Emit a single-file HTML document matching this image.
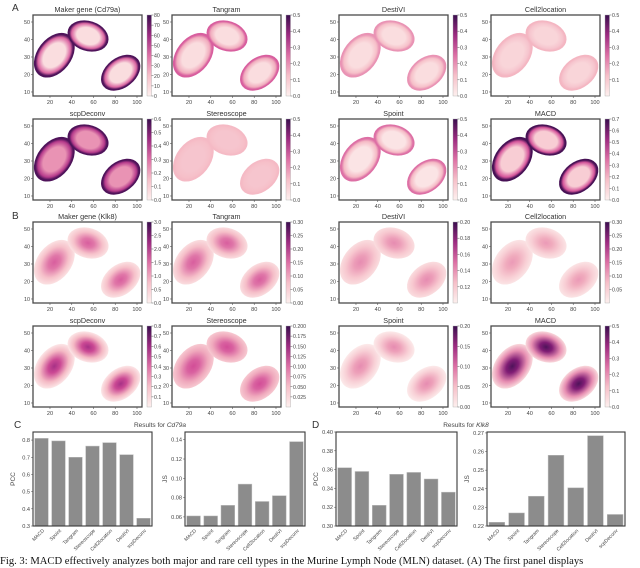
<!DOCTYPE html>
<html><head><meta charset="utf-8">
<style>
html,body{margin:0;padding:0;background:#fff;}
body{width:640px;height:568px;overflow:hidden;position:relative;font-family:"Liberation Sans",sans-serif;}
svg{position:absolute;left:0;top:0;}
</style></head>
<body>
<svg id="fig" width="640" height="568" viewBox="0 0 640 568" xmlns="http://www.w3.org/2000/svg">
<defs id="defs"></defs>
<text x="12" y="11" font-size="10" fill="#333">A</text>
<text x="12" y="219" font-size="10" fill="#333">B</text>
<text x="14" y="428" font-size="10" fill="#333">C</text>
<text x="312" y="428" font-size="10" fill="#333">D</text>
<text x="160" y="427" font-size="6.5" fill="#444" text-anchor="middle">Results for <tspan font-style="italic">Cd79a</tspan></text>
<text x="466" y="427" font-size="6.5" fill="#444" text-anchor="middle">Results for <tspan font-style="italic">Klk8</tspan></text>
<text x="0" y="564" font-family="Liberation Serif, serif" font-size="10.6" fill="#111">Fig. 3: MACD effectively analyzes both major and rare cell types in the Murine Lymph Node (MLN) dataset. (A) The first panel displays</text>
</svg>
<script>
// ---- spatial panel data ----
const panelTitles = ["Maker gene (Cd79a)","Tangram","DestiVI","Cell2location","scpDeconv","Stereoscope","Spoint","MACD","Maker gene (Klk8)","Tangram","DestiVI","Cell2location","scpDeconv","Stereoscope","Spoint","MACD"];
const edgeLevels =   [0.95,0.55,0.4,0.3, 0.95,0.28,0.5,0.97, 0.08,0.1,0.1,0.06, 0.05,0.2,0.03,0.12];
const centerLevels = [0.1,0.1,0.1,0.14, 0.4,0.22,0.06,0.18, 0.55,0.55,0.42,0.38, 0.72,0.6,0.42,0.95];
const cbarTicks = [
 ["0","10","20","30","40","50","60","70","80"],
 ["0.0","0.1","0.2","0.3","0.4","0.5"],
 ["0.0","0.1","0.2","0.3","0.4","0.5"],
 ["","0.1","0.2","0.3","0.4","0.5"],
 ["0.0","0.1","0.2","0.3","0.4","0.5","0.6"],
 ["0.0","0.1","0.2","0.3","0.4","0.5"],
 ["0.0","0.1","0.2","0.3","0.4","0.5"],
 ["0.0","0.1","0.2","0.3","0.4","0.5","0.6","0.7"],
 ["0.0","0.5","1.0","1.5","2.0","2.5","3.0"],
 ["0.00","0.05","0.10","0.15","0.20","0.25","0.30"],
 ["","0.12","0.14","0.16","0.18","0.20"],
 ["","0.05","0.10","0.15","0.20","0.25","0.30"],
 ["","0.1","0.2","0.3","0.4","0.5","0.6","0.7","0.8"],
 ["","0.025","0.050","0.075","0.100","0.125","0.150","0.175","0.200"],
 ["0.00","0.05","0.10","0.15","0.20"],
 ["0.0","0.1","0.2","0.3","0.4","0.5"]
];
const xTickVals = [20,40,60,80,100];
const yTickVals = [10,20,30,40,50];
// tissue regions centres in data coords
const blobCx = [24,55,85];
const blobCy = [31,42,21];

const colX = [33,172,339,491];
const rowY = [15,119,222,326];
const PW = 109, PH = 81;
const NS = "http://www.w3.org/2000/svg";
const svg = document.getElementById('fig');
const defs = document.getElementById('defs');

const stops = [[0,[253,240,238]],[0.3,[244,182,194]],[0.6,[210,77,151]],[0.8,[139,31,122]],[1,[59,15,79]]];
function cmap(t){t=Math.max(0,Math.min(1,t));for(let i=1;i<stops.length;i++){if(t<=stops[i][0]){const a=stops[i-1],b=stops[i];const f=(t-a[0])/(b[0]-a[0]);const c=a[1].map((v,k)=>Math.round(v+(b[1][k]-v)*f));return `rgb(${c[0]},${c[1]},${c[2]})`;}}return 'rgb(59,15,79)';}
function mk(tag,attrs,parent){const e=document.createElementNS(NS,tag);for(const k in attrs)e.setAttribute(k,attrs[k]);(parent||svg).appendChild(e);return e;}

const xs = (x0,v)=>x0+(v-4.4)*PW/100.2;
const ys = (y0,v)=>y0+(54-v)*PH/46.3;
const blobR = [[25,17,-52],[21,15,18],[22,15,-38]];

panelTitles.forEach((title,i)=>{
  const x0=colX[i%4], y0=rowY[Math.floor(i/4)];
  const g=mk('g',{});
  
  
  const gid='grad'+i;
  const rg=mk('radialGradient',{id:gid},defs);
  const ec=edgeLevels[i], cc=centerLevels[i];
  const edgeType = ec>cc;
  const st = edgeType ? [[0,cc],[0.55,cc],[0.8,cc*0.5+ec*0.5],[0.92,ec],[1,ec]]
                      : [[0,cc],[0.3,cc*0.85+ec*0.15],[0.7,cc*0.35+ec*0.65],[1,ec]];
  st.forEach(s=>mk('stop',{offset:s[0],'stop-color':cmap(s[1])},rg));
  mk('rect',{x:x0,y:y0,width:PW,height:PH,fill:'#fff'},g);
  blobCx.forEach((cx,b)=>{
    const px=xs(x0,cx), py=ys(y0,blobCy[b]);
    const e=mk('ellipse',{cx:px,cy:py,rx:blobR[b][0],ry:blobR[b][1],transform:`rotate(${blobR[b][2]} ${px} ${py})`,fill:`url(#${gid})`},g);
    
    
  });
  const fr=mk('rect',{x:x0,y:y0,width:PW,height:PH,fill:'none',stroke:'#4a4a4a','stroke-width':1.3},g);
  
  
  const t=mk('text',{x:x0+PW/2,y:y0-3,'font-size':7.2,fill:'#333','text-anchor':'middle'},g);
  t.textContent=title;
  
  
  xTickVals.forEach(v=>{const px=xs(x0,v);mk('line',{x1:px,x2:px,y1:y0+PH,y2:y0+PH+2,stroke:'#555','stroke-width':0.6},g);
    const tt=mk('text',{x:px,y:y0+PH+8,'font-size':5.6,fill:'#444','text-anchor':'middle'},g);tt.textContent=v;
    
    });
  yTickVals.forEach(v=>{const py=ys(y0,v);mk('line',{x1:x0-2,x2:x0,y1:py,y2:py,stroke:'#555','stroke-width':0.6},g);
    const tt=mk('text',{x:x0-3,y:py+2,'font-size':5.4,fill:'#444','text-anchor':'end'},g);tt.textContent=v;
    
    });
  const cid='cb'+i;
  const lg=mk('linearGradient',{id:cid,x1:0,y1:1,x2:0,y2:0},defs);
  [0,0.25,0.5,0.75,1].forEach(s=>mk('stop',{offset:s,'stop-color':cmap(s)},lg));
  const cbx=x0+PW+5;
  const cb=mk('rect',{x:cbx,y:y0,width:4.5,height:PH,fill:`url(#${cid})`,stroke:'#aaa','stroke-width':0.4},g);
  
  
  const tk=cbarTicks[i], n=tk.length;
  tk.forEach((lab,k)=>{const py=y0+PH-k*PH/(n-1);
    if(lab==='')return;
    mk('line',{x1:cbx+4.5,x2:cbx+6.5,y1:py,y2:py,stroke:'#555','stroke-width':0.5},g);
    const tt=mk('text',{x:cbx+7,y:py+2,'font-size':5.2,fill:'#444'},g);tt.textContent=lab;
    
    });
});

// ---- bar chart data ----
const methods = ["MACD","Spoint","Tangram","Stereoscope","Cell2location","DestiVI","scpDeconv"];
const cPcc = [0.81,0.795,0.70,0.765,0.785,0.715,0.345];
const cJs  = [0.061,0.061,0.072,0.094,0.076,0.082,0.138];
const dPcc = [0.362,0.358,0.322,0.355,0.357,0.350,0.336];
const dJs  = [0.222,0.227,0.236,0.258,0.2405,0.2685,0.2262];
const cPccTicks = [0.3,0.4,0.5,0.6,0.7,0.8];
const cJsTicks = [0.06,0.08,0.10,0.12,0.14];
const dPccTicks = [0.30,0.32,0.34,0.36,0.38,0.40];
const dJsTicks = [0.22,0.23,0.24,0.25,0.26,0.27];

function barChart(name,x0,x1,ymin,ymax,vals,ticks,dec,ylabel){
  const top=432,bot=526;
  const g=mk('g',{});
  
  
  const y=v=>bot-(v-ymin)/(ymax-ymin)*(bot-top);
  const slot=(x1-x0)/vals.length;
  vals.forEach((v,i)=>{const bx=x0+slot*i+slot*0.1;
    const r=mk('rect',{x:bx,y:y(v),width:slot*0.8,height:bot-y(v),fill:'#8c8c8c',stroke:'#bdbdbd','stroke-width':0.5},g);
    
    
    const cx=x0+slot*(i+0.5);
    const t=mk('text',{x:cx+3,y:bot+5,'font-size':5,fill:'#444','text-anchor':'end',transform:`rotate(-45 ${cx+3} ${bot+5})`},g);
    t.textContent=methods[i];
    
    
  });
  ticks.forEach(v=>{const py=y(v);
    mk('line',{x1:x0-2,x2:x0,y1:py,y2:py,stroke:'#555','stroke-width':0.5},g);
    const t=mk('text',{x:x0-3,y:py+2,'font-size':5.6,fill:'#444','text-anchor':'end'},g);
    t.textContent=v.toFixed(dec);
    
    });
  const fr=mk('rect',{x:x0,y:top,width:x1-x0,height:bot-top,fill:'none',stroke:'#3a3a3a','stroke-width':1.1},g);
  
  
  const lx=x0-18,ly=(top+bot)/2;
  const yl=mk('text',{x:lx,y:ly,'font-size':6.5,fill:'#444','text-anchor':'middle',transform:`rotate(-90 ${lx} ${ly})`},g);
  yl.textContent=ylabel;
  
  
}
barChart('chart-c-pcc',33,152,0.3,0.847,cPcc,cPccTicks,1,'PCC');
barChart('chart-c-js',185,305,0.0506,0.148,cJs,cJsTicks,2,'JS');
barChart('chart-d-pcc',336,457,0.30,0.40,dPcc,dPccTicks,2,'PCC');
barChart('chart-d-js',487,625,0.22,0.2705,dJs,dJsTicks,2,'JS');
</script>
</body></html>
